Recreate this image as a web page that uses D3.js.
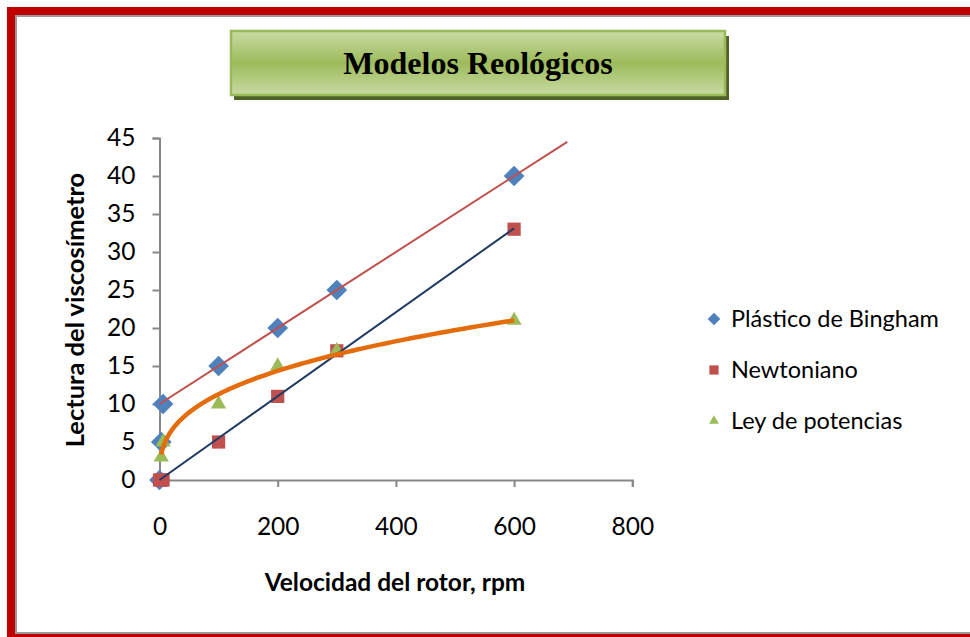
<!DOCTYPE html>
<html>
<head>
<meta charset="utf-8">
<script src="https://cdn.jsdelivr.net/npm/d3@7"></script>
<style>
  html, body { margin: 0; padding: 0; background: #fff; }
  svg { display: block; }
  text { font-family: Lato, "Open Sans", sans-serif; }
</style>
</head>
<body>
<svg id="chart" width="970" height="637"></svg>
<script>
// Viscometer dial readings at each rotor speed (rpm)
const rpm        = [0, 3, 6, 100, 200, 300, 600];
const bingham    = [0, 5, 10, 15, 20, 25, 40];
const newtonian  = [0, 0, 0, 5, 11, 17, 33];
const powerLaw   = [null, 3, 5, 10, 15, 17, 21];

const seriesNames = ["Plástico de Bingham", "Newtoniano", "Ley de potencias"];
const xTicks = [0, 200, 400, 600, 800];
const yTicks = [0, 5, 10, 15, 20, 25, 30, 35, 40, 45];

const title = "Modelos Reológicos";
const xTitle = "Velocidad del rotor, rpm";
const yTitle = "Lectura del viscosímetro";

// Trend line extents (rpm)
const binghamFitMin = 100;     // Bingham line fitted on the high-speed readings
const binghamLineRange = [0, 690];
const newtonLineRange = [0, 600];
const powerLineRange = [3, 600];

const svg = d3.select("#chart");

// ---- outer frame ----
svg.append("rect").attr("x", 11).attr("y", 11).attr("width", 980).attr("height", 627)
  .attr("fill", "none").attr("stroke", "#c00000").attr("stroke-width", 8);
svg.append("rect").attr("x", 16).attr("y", 16).attr("width", 970).attr("height", 617)
  .attr("fill", "none").attr("stroke", "#9a9a9a").attr("stroke-width", 2);

// ---- title box ----
const defs = svg.append("defs");
const grad = defs.append("linearGradient").attr("id", "titleGrad")
  .attr("x1", 0).attr("y1", 0).attr("x2", 0).attr("y2", 1);
grad.append("stop").attr("offset", "0%").attr("stop-color", "#c8dba3");
grad.append("stop").attr("offset", "50%").attr("stop-color", "#9dbb5c");
grad.append("stop").attr("offset", "100%").attr("stop-color", "#c8dba3");

svg.append("rect").attr("x", 234).attr("y", 36).attr("width", 495).attr("height", 64)
  .attr("fill", "#4f6228");
svg.append("rect").attr("x", 231).attr("y", 31).attr("width", 494).attr("height", 64)
  .attr("fill", "url(#titleGrad)").attr("stroke", "#9bbb59").attr("stroke-width", 2.5);
svg.append("text").attr("x", 478).attr("y", 74).attr("text-anchor", "middle")
  .style("font-family", "'Liberation Serif', 'Times New Roman', serif")
  .style("font-weight", "bold").style("font-size", "32px").attr("fill", "#000")
  .text(title);

// ---- scales ----
const x = d3.scaleLinear().domain([0, 800]).range([159.5, 632.3]);
const y = d3.scaleLinear().domain([0, 45]).range([480, 138]);

const axisColor = "#878787";
const gx = svg.append("g").attr("transform", `translate(0,${y(0)})`)
  .call(d3.axisBottom(x).tickValues(xTicks).tickSize(7).tickPadding(31).tickFormat(d3.format("d")));
const gy = svg.append("g").attr("transform", `translate(${x(0)},0)`)
  .call(d3.axisLeft(y).tickValues(yTicks).tickSize(7).tickPadding(17).tickFormat(d3.format("d")));
[gx, gy].forEach(g => {
  g.select(".domain").attr("stroke", axisColor).attr("stroke-width", 2);
  g.selectAll(".tick line").attr("stroke", axisColor).attr("stroke-width", 2);
  g.selectAll(".tick text").attr("fill", "#000").style("font-size", "24.5px")
    .style("font-family", "Lato, sans-serif");
});
gx.selectAll(".tick text").attr("dy", "0.71em");

// ---- axis titles ----
svg.append("text").attr("x", 395).attr("y", 591).attr("text-anchor", "middle")
  .style("font-weight", "bold").style("font-size", "24.5px").text(xTitle);
svg.append("text").attr("transform", "translate(84,310) rotate(-90)").attr("text-anchor", "middle")
  .style("font-weight", "bold").style("font-size", "25.5px").text(yTitle);

// ---- markers ----
const colors = ["#4f81bd", "#c0504d", "#9bbb59"];
const pts = (vals) => rpm.map((r, i) => ({ r, v: vals[i] })).filter(d => d.v !== null);

const marks = svg.append("g");
marks.selectAll(".bing").data(pts(bingham)).join("path")
  .attr("d", d3.symbol(d3.symbolSquare, 215)())
  .attr("transform", d => `translate(${x(d.r)},${y(d.v)}) rotate(45)`)
  .attr("fill", colors[0]);
marks.selectAll(".newt").data(pts(newtonian)).join("path")
  .attr("d", d3.symbol(d3.symbolSquare, 175)())
  .attr("transform", d => `translate(${x(d.r)},${y(d.v)})`)
  .attr("fill", colors[1]);
marks.selectAll(".pow").data(pts(powerLaw)).join("path")
  .attr("d", d3.symbol(d3.symbolTriangle, 100)())
  .attr("transform", d => `translate(${x(d.r)},${y(d.v)})`)
  .attr("fill", colors[2]);

// ---- trend lines ----
// Bingham: least squares on readings at rpm >= binghamFitMin
const bp = pts(bingham).filter(d => d.r >= binghamFitMin);
const bmx = d3.mean(bp, d => d.r), bmy = d3.mean(bp, d => d.v);
const bSlope = d3.sum(bp, d => (d.r - bmx) * (d.v - bmy)) / d3.sum(bp, d => (d.r - bmx) ** 2);
const bInt = bmy - bSlope * bmx;

// Newtonian: least squares through the origin
const np = pts(newtonian);
const nSlope = d3.sum(np, d => d.r * d.v) / d3.sum(np, d => d.r * d.r);

// Power law: fit in log-log space
const pp = pts(powerLaw).filter(d => d.r > 0 && d.v > 0);
const lx = pp.map(d => Math.log(d.r)), ly = pp.map(d => Math.log(d.v));
const mlx = d3.mean(lx), mly = d3.mean(ly);
const nExp = d3.sum(lx, (v, i) => (v - mlx) * (ly[i] - mly)) / d3.sum(lx, v => (v - mlx) ** 2);
const K = Math.exp(mly - nExp * mlx);

const line = d3.line().x(d => x(d[0])).y(d => y(d[1]));

svg.append("path")
  .attr("d", line(binghamLineRange.map(r => [r, bInt + bSlope * r])))
  .attr("fill", "none").attr("stroke", "#c0504d").attr("stroke-width", 2);
svg.append("path")
  .attr("d", line(newtonLineRange.map(r => [r, nSlope * r])))
  .attr("fill", "none").attr("stroke", "#1f3b63").attr("stroke-width", 2);
const powerCurve = d3.range(0, 201).map(i => {
  const r = powerLineRange[0] * Math.pow(powerLineRange[1] / powerLineRange[0], i / 200);
  return [r, K * Math.pow(r, nExp)];
});
svg.append("path")
  .attr("d", line(powerCurve))
  .attr("fill", "none").attr("stroke", "#e46c0a").attr("stroke-width", 4.5)
  .attr("stroke-linejoin", "round");

// ---- legend ----
const legend = svg.append("g");
const legendY = [319, 370, 421];
const legendSyms = [
  { t: d3.symbolSquare, s: 80, rot: 45 },
  { t: d3.symbolSquare, s: 85, rot: 0 },
  { t: d3.symbolTriangle, s: 42, rot: 0 }
];
seriesNames.forEach((name, i) => {
  legend.append("path")
    .attr("d", d3.symbol(legendSyms[i].t, legendSyms[i].s)())
    .attr("transform", `translate(714,${legendY[i]}) rotate(${legendSyms[i].rot})`)
    .attr("fill", colors[i]);
  legend.append("text").attr("x", 731).attr("y", legendY[i]).attr("dy", "0.36em")
    .style("font-size", "23.5px").attr("fill", "#000").text(name);
});
</script>
</body>
</html>
